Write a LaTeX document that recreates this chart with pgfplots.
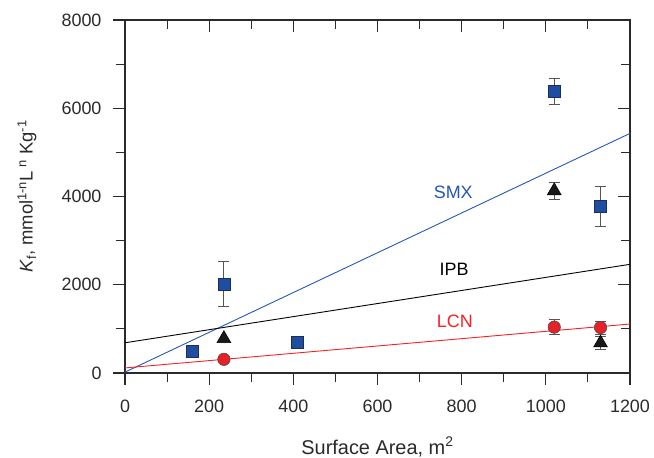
\documentclass[border=0pt]{standalone}
\usepackage{pgfplots}
\pgfplotsset{compat=1.18}
\usepackage{fontspec}
\setmainfont{Liberation Sans}
\definecolor{sqblue}{HTML}{1F4EA0}
\definecolor{sqedge}{HTML}{1A2D5E}
\definecolor{blueline}{HTML}{2457B5}
\definecolor{redfill}{HTML}{E82027}
\definecolor{redline}{HTML}{F22226}
\definecolor{axgray}{HTML}{2A2A2A}
\definecolor{errgray}{HTML}{555555}
\begin{document}
\begin{tikzpicture}
\pgfplotsset{
  base/.style={scale only axis, width=505bp, height=353bp,
    xmin=0, xmax=1200, ymin=0, ymax=8000,
    xtick={0,200,...,1200}, ytick={0,2000,...,8000},
    minor x tick num=1, minor y tick num=1,
    major tick length=12bp, minor tick length=9bp,
    axis line style={line width=1.2pt, color=axgray},
    tick style={line width=1.1pt, color=axgray},
  },
}
\begin{axis}[base, tick align=outside, xtick pos=bottom, ytick pos=left,
  ticklabel style={font=\fontsize{18}{21}\selectfont, text=axgray},
  xticklabel style={yshift=-11bp},
  yticklabel style={xshift=-8bp},
  /pgf/number format/assume math mode=true,
  /pgf/number format/1000 sep={},
  xlabel={Surface Area, m\textsuperscript{2}},
  ylabel={\textit{K}\textsubscript{f}, mmol\textsuperscript{1-n}L\textsuperscript{ n} Kg\textsuperscript{-1}},
  label style={font=\fontsize{20}{24}\selectfont, text=axgray},
  xlabel style={at={(axis description cs:0.5,0)}, anchor=center, yshift=-74bp},
  ylabel style={at={(axis description cs:-0.194,0.5)}, anchor=center, font=\fontsize{18.5}{22}\selectfont},
  clip=false,
]
\coordinate (o) at (rel axis cs:0,0);
% regression lines
\addplot[blueline, line width=0.9pt] coordinates {(0,20) (1200,5430)};
\addplot[black, line width=0.9pt] coordinates {(0,685) (1200,2463)};
\addplot[redline, line width=0.9pt] coordinates {(0,115) (1200,1110)};
% SMX squares
\addplot[only marks, mark=square*, mark size=6bp,
  mark options={fill=sqblue, draw=sqedge, line width=0.6pt},
  error bars/.cd, y dir=both, y explicit,
  error bar style={line width=0.8pt, errgray},
  error mark options={rotate=90, mark size=5.5bp, line width=0.8pt, errgray}]
  table[y error=ey] {
x y ey
235 2010 510
1020 6380 290
1130 3780 450
};
\addplot[only marks, mark=square*, mark size=6bp,
  mark options={fill=sqblue, draw=sqedge, line width=0.6pt}]
  table {
x y
160 500
410 690
};
% IPB triangles
\addplot[only marks, mark=triangle*, mark size=8bp,
  mark options={fill=black!90, draw=black, line width=0.5pt},
  error bars/.cd, y dir=both, y explicit,
  error bar style={line width=0.8pt, errgray},
  error mark options={rotate=90, mark size=5.5bp, line width=0.8pt, errgray}]
  table[y error=ey] {
x y ey
1020 4130 200
1130 680 140
};
\addplot[only marks, mark=triangle*, mark size=8bp,
  mark options={fill=black!90, draw=black, line width=0.5pt}]
  table {
x y
235 780
};
% LCN circles
\addplot[only marks, mark=*, mark size=6.2bp,
  mark options={fill=redfill, draw=black!70, line width=0.6pt},
  error bars/.cd, y dir=both, y explicit,
  error bar style={line width=0.8pt, errgray},
  error mark options={rotate=90, mark size=5.5bp, line width=0.8pt, errgray}]
  table[y error=ey] {
x y ey
1020 1040 170
1130 1030 150
};
\addplot[only marks, mark=*, mark size=6.2bp,
  mark options={fill=redfill, draw=black!70, line width=0.6pt}]
  table {
x y
235 310
};
\node[text=blueline, font=\fontsize{18}{21}\selectfont] at (axis cs:780,4090) {SMX};
\node[text=black, font=\fontsize{18}{21}\selectfont] at (axis cs:782,2357) {IPB};
\node[text=redline, font=\fontsize{18}{21}\selectfont] at (axis cs:784,1163) {LCN};
\end{axis}
\begin{axis}[base, tick align=inside, xtick pos=top, ytick pos=right,
  xticklabels={}, yticklabels={}, axis line style={draw=none}]
\end{axis}
\pgfresetboundingbox
\path[use as bounding box] ([shift={(-125bp,-85bp)}]o) rectangle ([shift={(529bp,373bp)}]o);
\end{tikzpicture}
\end{document}
